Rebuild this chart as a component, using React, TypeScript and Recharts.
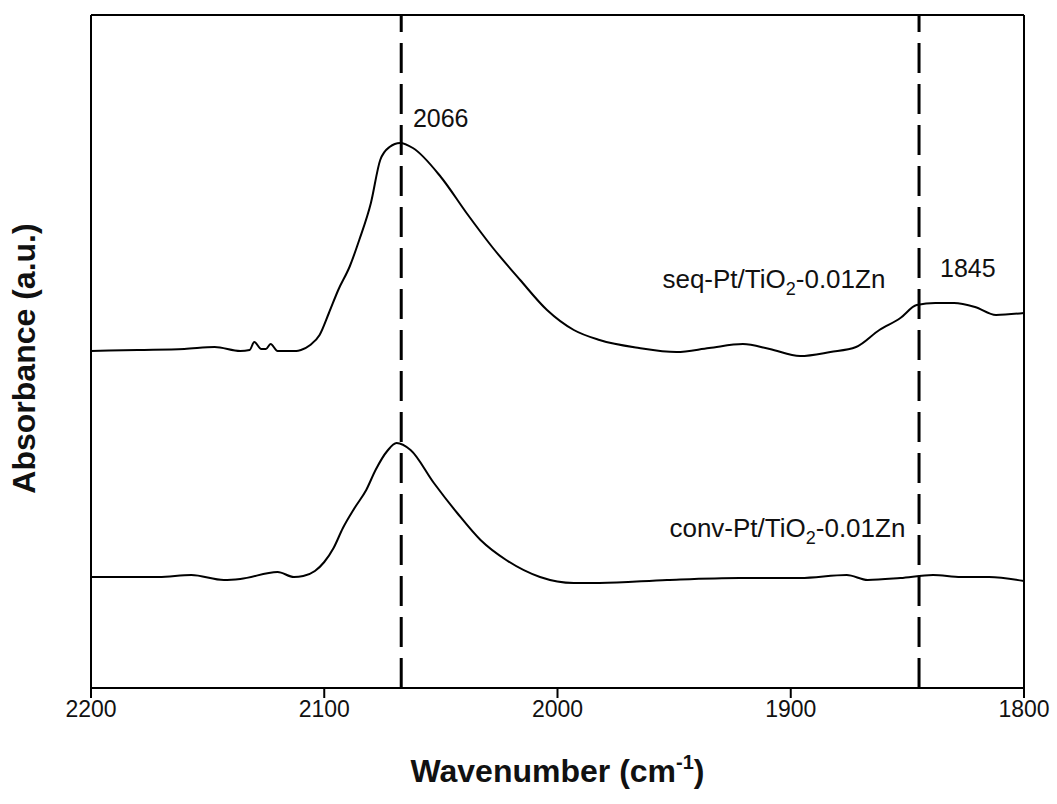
import React from 'react';
import {
  LineChart,
  Line,
  XAxis,
  YAxis,
  ReferenceLine,
  ReferenceDot
} from 'recharts';

// seq-Pt/TiO2-0.01Zn spectrum (wavenumber, absorbance a.u.)
const seqWavenumber = [2200, 2180, 2160, 2147, 2136, 2132, 2130, 2127, 2125, 2123, 2120, 2112, 2110, 2106, 2102, 2098, 2094, 2089, 2085, 2080, 2076, 2072, 2067.5, 2062, 2050, 2039, 2028, 2016, 2004.5, 1993, 1982, 1965, 1949, 1935, 1920.5, 1909, 1896, 1883, 1872, 1862, 1853, 1846, 1838, 1830, 1821, 1812, 1800];
const seqAbsorbance = [0.337, 0.338, 0.339, 0.341, 0.337, 0.338, 0.346, 0.339, 0.339, 0.344, 0.337, 0.337, 0.338, 0.343, 0.353, 0.375, 0.398, 0.422, 0.448, 0.485, 0.528, 0.541, 0.545, 0.540, 0.511, 0.475, 0.441, 0.408, 0.378, 0.358, 0.348, 0.340, 0.336, 0.340, 0.344, 0.339, 0.332, 0.336, 0.341, 0.358, 0.370, 0.383, 0.385, 0.385, 0.381, 0.373, 0.375];

// conv-Pt/TiO2-0.01Zn spectrum
const convWavenumber = [2200, 2171, 2157, 2143, 2136, 2120, 2113, 2109, 2104, 2100, 2096, 2092, 2087, 2082, 2078, 2073, 2069, 2063, 2053, 2043, 2033, 2022, 2007.5, 1993, 1982, 1953, 1922, 1896, 1876, 1867, 1853, 1839, 1827, 1815, 1800];
const convAbsorbance = [0.111, 0.111, 0.113, 0.108, 0.109, 0.116, 0.111, 0.112, 0.117, 0.126, 0.140, 0.160, 0.180, 0.198, 0.218, 0.237, 0.245, 0.238, 0.205, 0.175, 0.148, 0.128, 0.111, 0.105, 0.105, 0.108, 0.110, 0.110, 0.113, 0.108, 0.110, 0.113, 0.111, 0.111, 0.107];

const xTicks = [2200, 2100, 2000, 1900, 1800];
const peakLines = [2067, 1845];

// annotation anchor points (wavenumber, absorbance) and text
const peakLabels = [
  { x: 2062, y: 0.561, text: '2066' },
  { x: 1836, y: 0.411, text: '1845' }
];
const sampleLabels = [
  { x: 1955, y: 0.4, prefix: 'seq-Pt/TiO' },
  { x: 1952, y: 0.151, prefix: 'conv-Pt/TiO' }
];

const seqData = seqWavenumber.map((wn, i) => ({ wn, abs: seqAbsorbance[i] }));
const convData = convWavenumber.map((wn, i) => ({ wn, abs: convAbsorbance[i] }));

const FONT = '"Liberation Sans", Arial, sans-serif';
const INK = '#111';

export default function App() {
  return (
    <div style={{ position: 'absolute', left: 0, top: 0, width: 1057, height: 804, background: '#fff' }}>
      <LineChart width={1057} height={804} margin={{ top: 15, right: 33, left: 0, bottom: 0 }}>
        <XAxis
          type="number"
          dataKey="wn"
          domain={[1800, 2200]}
          reversed
          ticks={xTicks}
          height={116}
          stroke="#000"
          strokeWidth={2}
          tickSize={10}
          tickMargin={3}
          tick={{ fontSize: 23, fill: INK, fontFamily: FONT }}
          label={{
            content: ({ viewBox }: any) => (
              <text
                x={viewBox.x + viewBox.width / 2}
                y={viewBox.y + 94}
                textAnchor="middle"
                fontSize={32}
                fontWeight="bold"
                fill={INK}
                fontFamily={FONT}
              >
                Wavenumber (cm
                <tspan dy={-13} fontSize={20}>-1</tspan>
                <tspan dy={13}>)</tspan>
              </text>
            )
          }}
        />
        <YAxis
          type="number"
          domain={[0, 0.673]}
          width={91}
          tick={false}
          tickLine={false}
          stroke="#000"
          strokeWidth={2}
          label={{
            content: ({ viewBox }: any) => {
              const cx = 35;
              const cy = viewBox.y + viewBox.height / 2 + 7;
              return (
                <text
                  x={cx}
                  y={cy}
                  transform={`rotate(-90, ${cx}, ${cy})`}
                  textAnchor="middle"
                  fontSize={32}
                  fontWeight="bold"
                  fill={INK}
                  fontFamily={FONT}
                >
                  Absorbance (a.u.)
                </text>
              );
            }
          }}
        />
        <ReferenceLine y={0.673} stroke="#000" strokeWidth={2} />
        <ReferenceLine x={1800} stroke="#000" strokeWidth={2} />
        {peakLines.map((x) => (
          <ReferenceLine key={x} x={x} stroke="#000" strokeWidth={3} strokeDasharray="30 11" />
        ))}
        <Line
          data={seqData}
          dataKey="abs"
          type="monotone"
          stroke="#000"
          strokeWidth={2}
          dot={false}
          isAnimationActive={false}
        />
        <Line
          data={convData}
          dataKey="abs"
          type="monotone"
          stroke="#000"
          strokeWidth={2}
          dot={false}
          isAnimationActive={false}
        />
        {peakLabels.map((p) => (
          <ReferenceDot
            key={p.text}
            x={p.x}
            y={p.y}
            r={0}
            stroke="none"
            label={{
              content: ({ viewBox }: any) => (
                <text x={viewBox.x} y={viewBox.y} fontSize={25} fill={INK} fontFamily={FONT}>
                  {p.text}
                </text>
              )
            }}
          />
        ))}
        {sampleLabels.map((s) => (
          <ReferenceDot
            key={s.prefix}
            x={s.x}
            y={s.y}
            r={0}
            stroke="none"
            label={{
              content: ({ viewBox }: any) => (
                <text x={viewBox.x} y={viewBox.y} fontSize={26} fill={INK} fontFamily={FONT}>
                  {s.prefix}
                  <tspan dy={7} fontSize={18}>2</tspan>
                  <tspan dy={-7}>-0.01Zn</tspan>
                </text>
              )
            }}
          />
        ))}
      </LineChart>
    </div>
  );
}
